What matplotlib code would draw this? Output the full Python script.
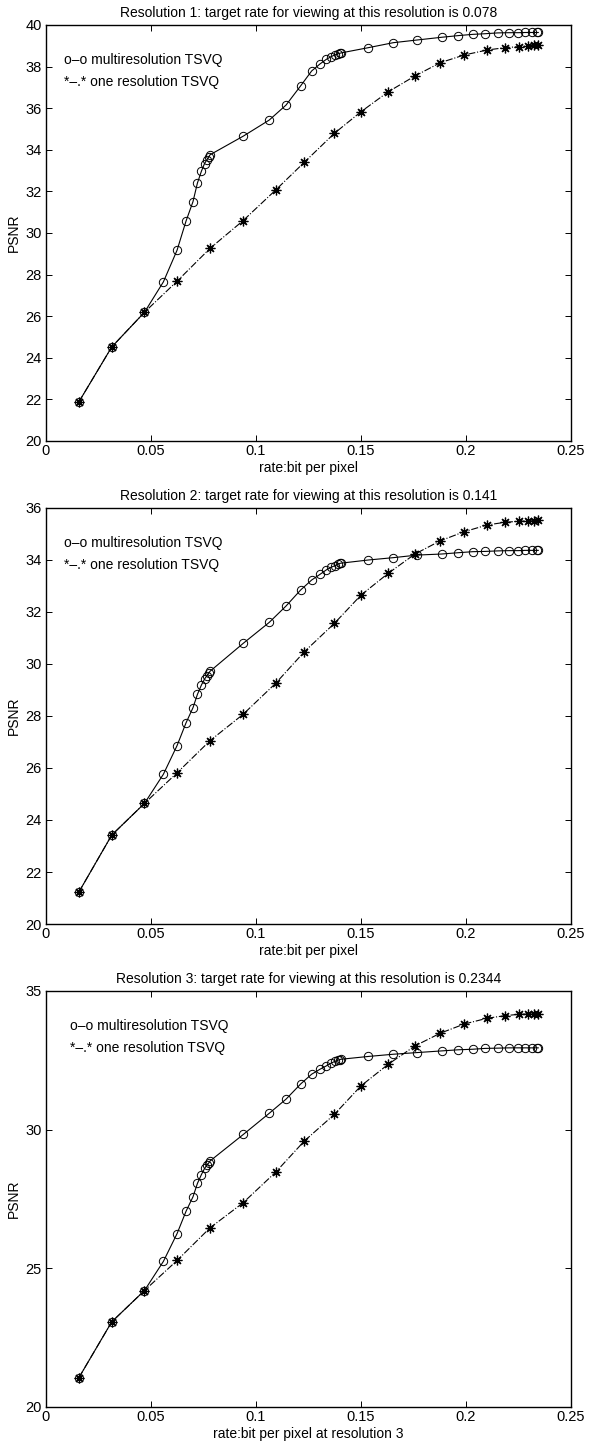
import matplotlib
matplotlib.use('Agg')
import matplotlib.pyplot as plt
from matplotlib.ticker import FixedLocator, FuncFormatter

plt.rcParams['font.family'] = ['Liberation Sans', 'DejaVu Sans']

# rates (bit per pixel)
multi_x = [0.0156, 0.0313, 0.0469, 0.0559, 0.0624, 0.0667, 0.0700, 0.0721,
           0.0740, 0.0755, 0.0766, 0.0775, 0.0781, 0.0940, 0.1063, 0.1143,
           0.1213, 0.1265, 0.1305, 0.1335, 0.1358, 0.1375, 0.1389, 0.1399,
           0.1406, 0.1535, 0.1654, 0.1768, 0.1884, 0.1963, 0.2032, 0.2090,
           0.2151, 0.2206, 0.2249, 0.2281, 0.2313, 0.2337, 0.2344]
one_x = [0.0156, 0.0313, 0.0469, 0.0625, 0.0781, 0.0938, 0.1094, 0.1230,
         0.1373, 0.1500, 0.1630, 0.1757, 0.1878, 0.1992, 0.2102, 0.2186,
         0.2252, 0.2297, 0.2325, 0.2344]

# PSNR, resolution 1
multi_r1 = [21.87, 24.52, 26.19, 27.65, 29.17, 30.58, 31.51, 32.40, 32.97,
            33.34, 33.52, 33.64, 33.76, 34.66, 35.43, 36.15, 37.08, 37.79,
            38.13, 38.35, 38.48, 38.56, 38.61, 38.64, 38.66, 38.91, 39.15,
            39.28, 39.41, 39.49, 39.55, 39.58, 39.62, 39.63, 39.63, 39.64,
            39.64, 39.64, 39.64]
one_r1 = [21.87, 24.52, 26.19, 27.69, 29.26, 30.59, 32.07, 33.40, 34.79,
          35.83, 36.79, 37.55, 38.19, 38.56, 38.80, 38.91, 38.96, 39.00,
          39.02, 39.04]

# PSNR, resolution 2
multi_r2 = [21.22, 23.42, 24.64, 25.76, 26.86, 27.74, 28.32, 28.83, 29.19,
            29.42, 29.55, 29.64, 29.72, 30.80, 31.60, 32.23, 32.85, 33.23,
            33.45, 33.62, 33.72, 33.78, 33.83, 33.87, 33.88, 34.00, 34.09,
            34.19, 34.23, 34.28, 34.32, 34.33, 34.35, 34.36, 34.36, 34.37,
            34.37, 34.37, 34.37]
one_r2 = [21.22, 23.42, 24.64, 25.82, 27.05, 28.06, 29.26, 30.47, 31.56,
          32.65, 33.49, 34.23, 34.74, 35.09, 35.35, 35.45, 35.49, 35.50,
          35.51, 35.52]

# PSNR, resolution 3
multi_r3 = [21.05, 23.07, 24.20, 25.25, 26.25, 27.06, 27.58, 28.06, 28.38,
            28.60, 28.72, 28.80, 28.87, 29.83, 30.59, 31.10, 31.65, 32.00,
            32.18, 32.30, 32.40, 32.46, 32.50, 32.53, 32.54, 32.64, 32.72,
            32.78, 32.84, 32.88, 32.90, 32.93, 32.94, 32.95, 32.95, 32.95,
            32.95, 32.95, 32.95]
one_r3 = [21.05, 23.07, 24.20, 25.29, 26.46, 27.36, 28.47, 29.59, 30.55,
          31.58, 32.36, 33.02, 33.48, 33.81, 34.02, 34.11, 34.16, 34.17,
          34.17, 34.18]

titles = ['Resolution 1: target rate for viewing at this resolution is 0.078',
          'Resolution 2: target rate for viewing at this resolution is 0.141',
          'Resolution 3: target rate for viewing at this resolution is 0.2344']
xlabels = ['rate:bit per pixel', 'rate:bit per pixel',
           'rate:bit per pixel at resolution 3']
ylims = [(20, 40), (20, 36), (20, 35)]
yticks = [list(range(20, 41, 2)), list(range(20, 37, 2)), [20, 25, 30, 35]]
xticks = [0, 0.05, 0.1, 0.15, 0.2, 0.25]

fig = plt.figure(figsize=(5.92, 14.41), dpi=100)
W, H = 592.0, 1441.0
left, width, height = 46 / W, 525 / W, 416 / H
bottoms = [(H - 441) / H, (H - 924) / H, (H - 1407) / H]
text_x = [0.035, 0.035, 0.045]

series = [(multi_r1, one_r1), (multi_r2, one_r2), (multi_r3, one_r3)]
star = (8, 2, 0)

for i in range(3):
    ax = fig.add_axes([left, bottoms[i], width, height])
    my, oy = series[i]
    ax.plot(multi_x, my, '-', color='k', lw=0.8, marker='o', ms=6,
            mfc='none', mec='k', mew=0.7)
    ax.plot(one_x, oy, '-.', color='k', lw=0.8, marker=star, ms=7,
            mec='k', mew=0.9)
    ax.set_xlim(0, 0.25)
    ax.set_ylim(*ylims[i])
    ax.xaxis.set_major_locator(FixedLocator(xticks))
    ax.yaxis.set_major_locator(FixedLocator(yticks[i]))
    ax.xaxis.set_major_formatter(FuncFormatter(lambda v, p: ('%g' % round(v, 3))))
    ax.tick_params(direction='in', length=4, width=0.7, top=True, right=True,
                   labelsize=10.5, pad=3)
    ax.tick_params(axis='x', pad=2)
    for s in ax.spines.values():
        s.set_linewidth(1.0)
    ax.set_title(titles[i], fontsize=10, pad=6)
    ax.set_xlabel(xlabels[i], fontsize=10, labelpad=2)
    ax.set_ylabel('PSNR', fontsize=10, labelpad=3)
    ax.text(text_x[i], 0.915, 'o\u2013o multiresolution TSVQ', transform=ax.transAxes,
            fontsize=10, va='center', ha='left')
    ax.text(text_x[i], 0.862, '*\u2013.* one resolution TSVQ', transform=ax.transAxes,
            fontsize=10, va='center', ha='left')

plt.savefig('out.png', dpi=100)
